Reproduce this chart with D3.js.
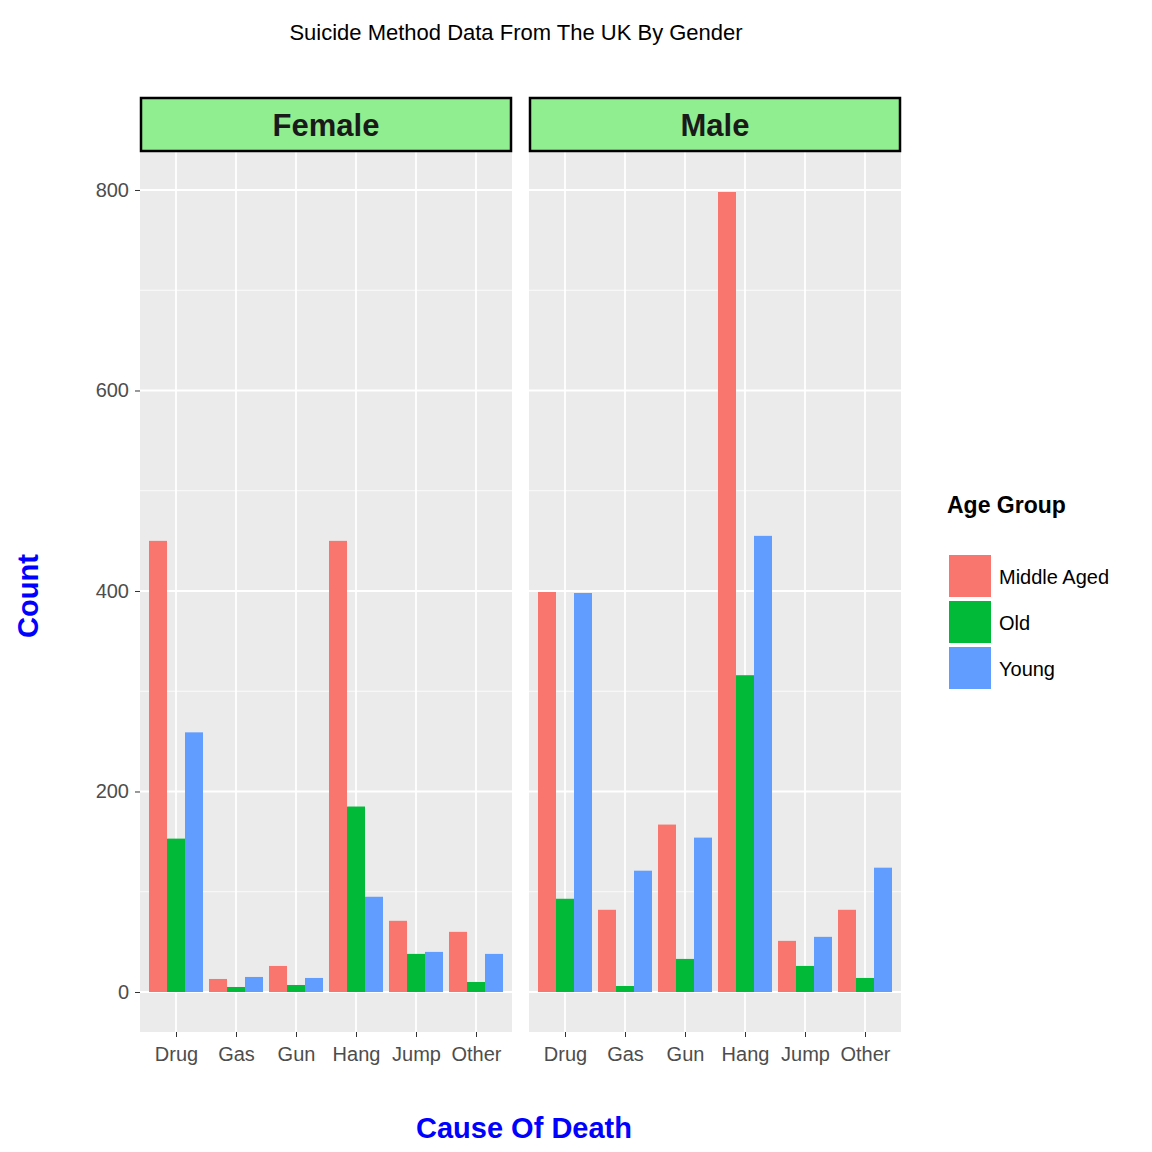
<!DOCTYPE html>
<html><head><meta charset="utf-8">
<script src="https://cdn.jsdelivr.net/npm/d3@7"></script>
<style>body{margin:0;background:#fff}text{font-family:Arial,"Liberation Sans",sans-serif}</style>
</head><body><svg id="c" width="1152" height="1152"></svg>
<script>
const causes = ['Drug', 'Gas', 'Gun', 'Hang', 'Jump', 'Other'];
const ageGroups = ['Middle Aged', 'Old', 'Young'];
const colors = ['#F8766D', '#00BA38', '#619CFF'];
const genders = ['Female', 'Male'];
// counts per cause, in ageGroups order
const femaleCounts = [[450, 153, 259], [13, 5, 15], [26, 7, 14], [450, 185, 95], [71, 38, 40], [60, 10, 38]];
const maleCounts = [[399, 93, 398], [82, 6, 121], [167, 33, 154], [798, 316, 455], [51, 26, 55], [82, 14, 124]];
const yTicks = [0, 200, 400, 600, 800];
const yMinor = [100, 300, 500, 700];

const svg = d3.select('#c');
const plotTop = 152, plotBottom = 1032;
const panels = [{ x0: 140, x1: 512, data: femaleCounts }, { x0: 529, x1: 901, data: maleCounts }];
const y = d3.scaleLinear().domain([-39.9, 837.9]).range([plotBottom, plotTop]);

svg.append('text').attr('x', 516).attr('y', 40).attr('text-anchor', 'middle')
  .style('font-size', '22px').text('Suicide Method Data From The UK By Gender');

panels.forEach((p, i) => {
  const x = d3.scalePoint().domain(causes).range([p.x0, p.x1]).padding(0.6);
  const step = x.step(), bw = step * 0.9 / 3;
  const g = svg.append('g');
  g.append('rect').attr('x', p.x0).attr('y', plotTop).attr('width', p.x1 - p.x0).attr('height', plotBottom - plotTop).attr('fill', '#EBEBEB');
  g.selectAll('.mn').data(yMinor).enter().append('line')
    .attr('x1', p.x0).attr('x2', p.x1).attr('y1', d => y(d)).attr('y2', d => y(d)).attr('stroke', '#fff').attr('stroke-width', 0.8);
  g.selectAll('.mj').data(yTicks).enter().append('line')
    .attr('x1', p.x0).attr('x2', p.x1).attr('y1', d => y(d)).attr('y2', d => y(d)).attr('stroke', '#fff').attr('stroke-width', 1.8);
  g.selectAll('.vx').data(causes).enter().append('line')
    .attr('x1', d => x(d)).attr('x2', d => x(d)).attr('y1', plotTop).attr('y2', plotBottom).attr('stroke', '#fff').attr('stroke-width', 1.8);
  p.data.forEach((vals, ci) => {
    g.selectAll(null).data(vals).enter().append('rect')
      .attr('x', (d, k) => x(causes[ci]) - step * 0.45 + k * bw)
      .attr('width', bw)
      .attr('y', d => y(d)).attr('height', d => y(0) - y(d))
      .attr('fill', (d, k) => colors[k]);
  });
  // strip
  g.append('rect').attr('x', p.x0 + 1).attr('y', 98).attr('width', p.x1 - p.x0 - 2).attr('height', 53)
    .attr('fill', '#90EE90').attr('stroke', '#000').attr('stroke-width', 2.5);
  g.append('text').attr('x', (p.x0 + p.x1) / 2).attr('y', 136).attr('text-anchor', 'middle')
    .style('font-size', '31px').style('font-weight', 'bold').attr('fill', '#1a1a1a').text(genders[i]);
  // x axis
  const ax = g.append('g').attr('transform', `translate(0,${plotBottom})`)
    .call(d3.axisBottom(x).tickSize(5).tickPadding(10));
  ax.select('.domain').remove();
  ax.selectAll('line').attr('stroke', '#333');
  ax.selectAll('text').style('font-size', '20px').attr('fill', '#4D4D4D');
});

const ay = svg.append('g').attr('transform', 'translate(140,0)')
  .call(d3.axisLeft(y).tickValues(yTicks).tickSize(5).tickPadding(6));
ay.select('.domain').remove();
ay.selectAll('line').attr('stroke', '#333');
ay.selectAll('text').style('font-size', '20px').attr('fill', '#4D4D4D');

svg.append('text').attr('x', 524).attr('y', 1138).attr('text-anchor', 'middle')
  .style('font-size', '29px').style('font-weight', 'bold').attr('fill', '#0000FF').text('Cause Of Death');
svg.append('text').attr('transform', 'translate(38,596) rotate(-90)').attr('text-anchor', 'middle')
  .style('font-size', '29px').style('font-weight', 'bold').attr('fill', '#0000FF').text('Count');

// legend
const lg = svg.append('g');
lg.append('text').attr('x', 947).attr('y', 513).style('font-size', '23px').style('font-weight', 'bold').text('Age Group');
ageGroups.forEach((a, k) => {
  lg.append('rect').attr('x', 949).attr('y', 555 + k * 46).attr('width', 42).attr('height', 42).attr('fill', colors[k]);
  lg.append('text').attr('x', 999).attr('y', 584 + k * 46).style('font-size', '20px').text(a);
});
</script></body></html>
